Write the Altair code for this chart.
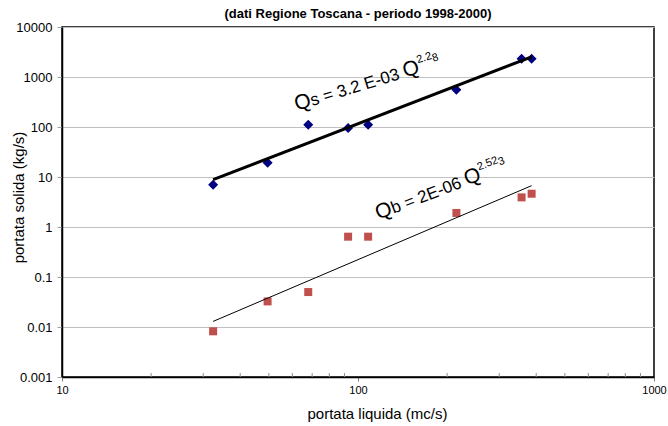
import altair as alt
import pandas as pd

# Portata liquida (mc/s) and measured solid discharge (kg/s)
Q = [32.4, 49.5, 67.9, 92.6, 108.2, 215, 357, 386]
QS = [7.0, 19.3, 111, 95.5, 111, 557, 2320, 2320]      # trasporto totale
QB = [0.0082, 0.0325, 0.050, 0.64, 0.64, 1.91, 3.91, 4.63]  # trasporto di fondo

# Power-law fits as printed on the chart
QS_COEF, QS_EXP = 3.2e-3, 2.28
QB_COEF, QB_EXP = 2e-6, 2.523

X_TICKS = [10, 100, 1000]
Y_TICKS = [0.001, 0.01, 0.1, 1, 10, 100, 1000, 10000]
X_MINOR = [20, 30, 40, 50, 60, 70, 80, 90, 200, 300, 400, 500, 600, 700, 800, 900]

FONT = "Liberation Sans"
W, H = 592, 350

pts = pd.DataFrame({"Q": Q + Q, "val": QS + QB,
                    "serie": ["Qs"] * len(Q) + ["Qb"] * len(Q)})

q_ends = [min(Q), max(Q)]
fit_s = pd.DataFrame({"Q": q_ends, "val": [QS_COEF * q ** QS_EXP for q in q_ends]})
fit_b = pd.DataFrame({"Q": q_ends, "val": [QB_COEF * q ** QB_EXP for q in q_ends]})

xs = alt.Scale(type="log", domain=[10, 1000], nice=False)
ys = alt.Scale(type="log", domain=[0.001, 10000], nice=False)

x_axis = alt.Axis(values=X_TICKS, format="d", grid=False, title="portata liquida (mc/s)",
                  labelFontSize=11, labelFont=FONT, labelColor="black", labelFlush=False,
                  tickSize=4, tickColor="#808080", labelPadding=3,
                  domainColor="black", domainWidth=1.5,
                  titleFont=FONT, titleFontSize=15, titleFontWeight="normal", titleColor="black",
                  titleX=315, titleY=36, titleBaseline="middle", titleAnchor="start",
                  titleAlign="center")
y_axis = alt.Axis(values=Y_TICKS, format="~g", grid=True, gridColor="#c0c0c0", gridWidth=1,
                  title="portata solida (kg/s)",
                  labelFontSize=13, labelFont=FONT, labelColor="black", labelFlush=False,
                  tickSize=5, tickColor="#a0a0a0", labelPadding=5,
                  domainColor="black", domainWidth=1.5,
                  titleFont=FONT, titleFontSize=15, titleFontWeight="normal", titleColor="black",
                  titleX=-44, titleY=170, titleBaseline="middle", titleAngle=270,
                  titleAlign="center", titleAnchor="start")

X_ENC = alt.X("Q:Q", scale=xs, axis=x_axis)
Y_ENC = alt.Y("val:Q", scale=ys, axis=y_axis)

base_pts = alt.Chart(pts)

diamonds = base_pts.transform_filter(alt.datum.serie == "Qs").mark_point(
    shape="diamond", filled=True, size=100, color="#000080", opacity=1
).encode(x=X_ENC, y=Y_ENC)

squares = base_pts.transform_filter(alt.datum.serie == "Qb").mark_square(
    size=64, color="#C0504D", opacity=1
).encode(x=X_ENC, y=Y_ENC)

line_s = alt.Chart(fit_s).mark_line(color="black", strokeWidth=3).encode(x=X_ENC, y=Y_ENC)
line_b = alt.Chart(fit_b).mark_line(color="black", strokeWidth=1).encode(x=X_ENC, y=Y_ENC)

minor = alt.Chart(pd.DataFrame({"Q": X_MINOR})).mark_rule(color="#909090", strokeWidth=1).encode(
    x=X_ENC, y=alt.value(H - 4), y2=alt.value(H))


def equation(anchor_q, anchor_v, angle, pieces):
    """Rotated equation built from text pieces laid along one baseline."""
    df = pd.DataFrame({"Q": [anchor_q], "val": [anchor_v]})
    layers = []
    for txt, size, dx, dy in pieces:
        layers.append(
            alt.Chart(df).mark_text(text=txt, font=FONT, fontSize=size, align="left",
                                    baseline="alphabetic", angle=angle, dx=dx, dy=dy,
                                    color="black")
            .encode(x=X_ENC, y=Y_ENC)
        )
    return layers


# widths follow Arial metrics: Q=0.778em, text at 17px, exponents at 11px
eq_s = equation(62.1, 212, 343, [
    ("Q", 21, 0, 0),
    ("s = 3.2 E-03", 17, 16.3, 0),
    ("Q", 21, 113.2, 0),
    ("2.2", 11, 129.5, -10),
    ("8", 11, 144.8, -7),
])
eq_b = equation(117, 1.40, 339, [
    ("Q", 21, 0, 0),
    ("b = 2E-06", 17, 16.3, 0),
    ("Q", 21, 95.2, 0),
    ("2.52", 11, 111.5, -10),
    ("3", 11, 132.9, -7),
])

chart = alt.layer(diamonds, squares, line_s, line_b, minor, *eq_s, *eq_b).properties(
    width=W, height=H,
    title=alt.TitleParams("(dati Regione Toscana - periodo 1998-2000)", fontSize=13,
                          fontWeight="bold", font=FONT, anchor="middle", offset=0, color="black"),
    autosize=alt.AutoSizeParams(type="none"),
    padding={"left": 62, "top": 27, "right": 14, "bottom": 49},
).configure_view(stroke="black", strokeWidth=1.5)

chart.save("out.html", embed_options={"renderer": "svg", "actions": False})
